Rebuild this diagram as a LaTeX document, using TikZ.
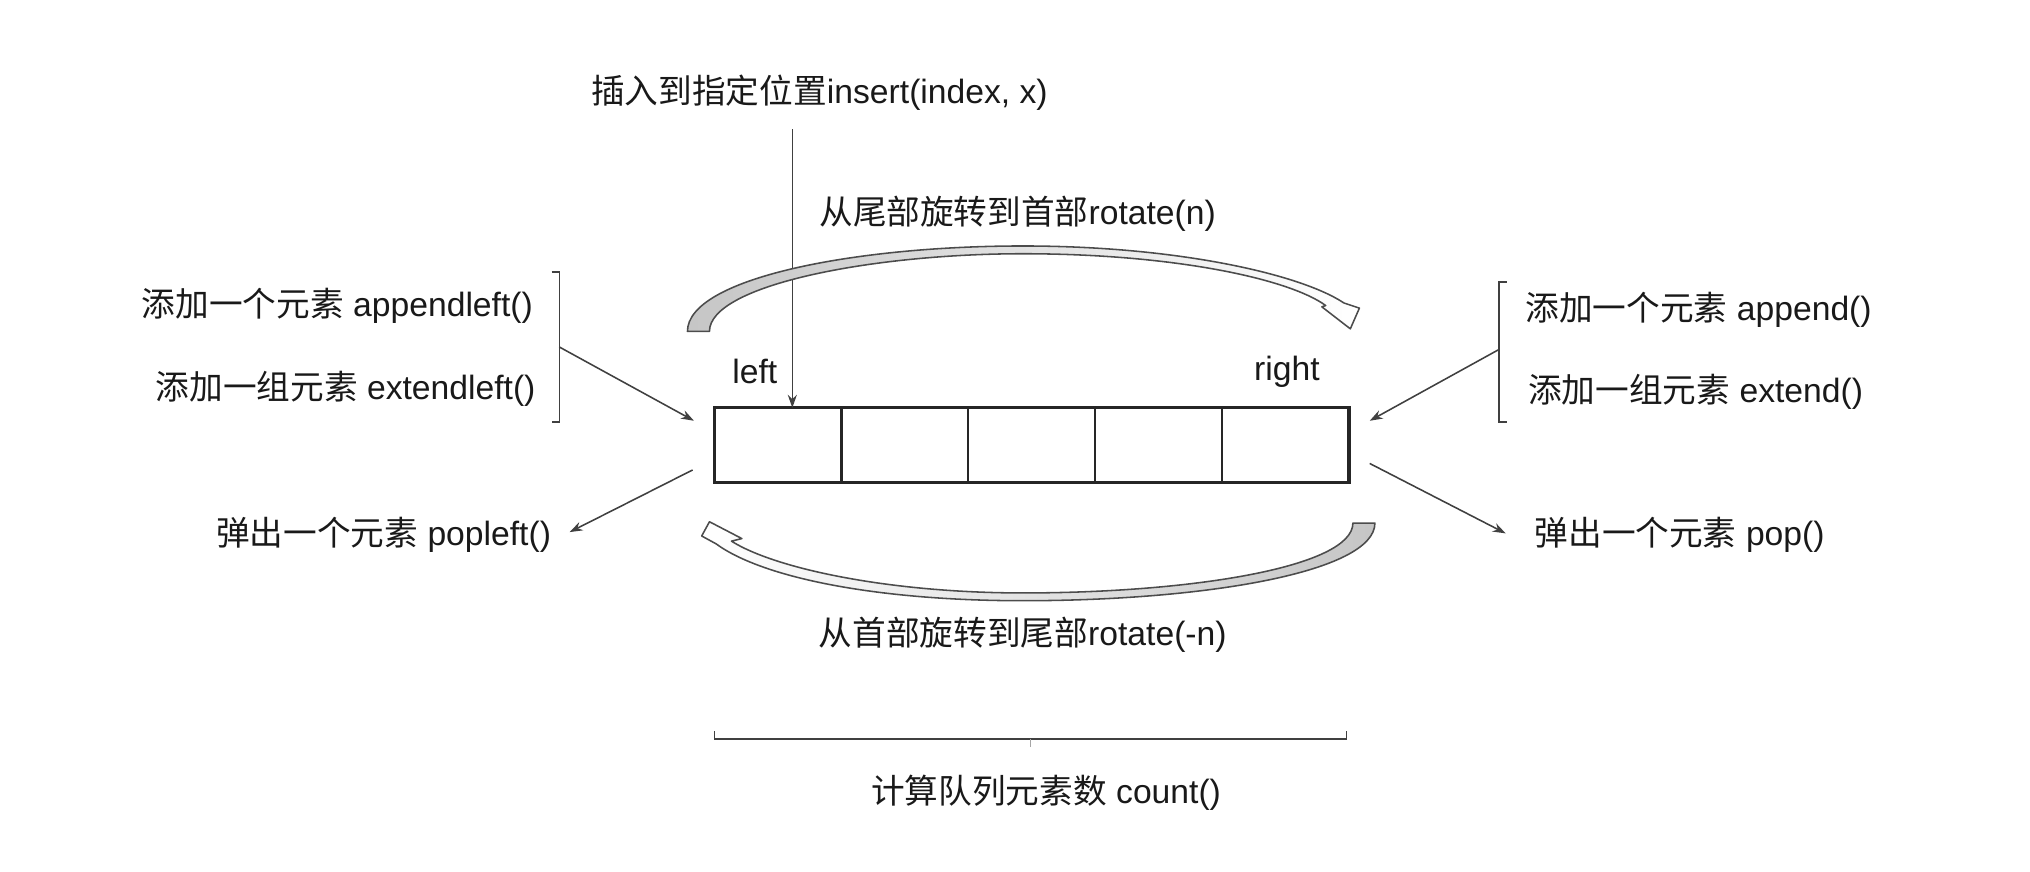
\documentclass[tikz,border=0pt]{standalone}
\usepackage{fontspec}
\setmainfont{Liberation Sans}
\newfontfamily\cjk{Noto Sans CJK SC}
\newcommand\zh[1]{{\cjk #1}}
\usetikzlibrary{positioning,calc,arrows.meta}

\begin{document}
\begin{tikzpicture}[x=0.5pt,y=-0.5pt,
    txt/.style={inner sep=0pt,text=black!90,font=\fontsize{13}{15}\selectfont},
    cell/.style={draw=black!85,line width=0.8pt,minimum width=49pt,minimum height=29pt,inner sep=0pt,outer sep=0pt},
    conn/.style={draw=black!75,line width=0.6pt},
    arr/.style={conn,-{Stealth[length=5pt,width=3.5pt]}},
    band/.style={draw=black!70,line width=0.6pt,line join=round}]
    \useasboundingbox (0,0) rectangle (1568,673);

    % the deque
    \node[cell] (c1) at (601,344) {};
    \foreach \i [remember=\i as \j (initially 1)] in {2,...,5}
        \node[cell,right=0pt of c\j] (c\i) {};
    \draw[black!85,line width=1.2pt] (c1.north west) rectangle (c5.south east);
    \node[txt] (lft) at (583,287) {left};
    \node[txt] (rgt) at (994,287) {right};

    % labels
    \node[txt] (ins)  at (633,72)  {\zh{插入到指定位置}insert(index, x)};
    \node[txt] (rotR) at (786,165) {\zh{从尾部旋转到首部}rotate(n)};
    \node[txt] (rotL) at (790,490) {\zh{从首部旋转到尾部}rotate(-n)};
    \node[txt,anchor=east] (apl)  at (412,236) {\zh{添加一个元素} appendleft()};
    \node[txt,anchor=east] (exl)  at (414,300) {\zh{添加一组元素} extendleft()};
    \node[txt,anchor=east] (popl) at (426,413) {\zh{弹出一个元素} popleft()};
    \node[txt,anchor=west] (apr)  at (1178,239) {\zh{添加一个元素} append()};
    \node[txt,anchor=west] (exr)  at (1180,303) {\zh{添加一组元素} extend()};
    \node[txt,anchor=west] (pop)  at (1185,413) {\zh{弹出一个元素} pop()};
    \node[txt] (cnt) at (808,612) {\zh{计算队列元素数} count()};

    % insert
    \coordinate (insTop) at (612,100);
    \draw[arr] (insTop) -- (insTop |- c1.north);

    % brackets
    \draw[conn] (426,210) -- (432,210) -- coordinate[pos=0.5] (lbr) (432,326) -- (426,326);
    \draw[conn] (1164,218) -- (1158,218) -- coordinate[pos=0.48] (rbr) (1158,326) -- (1164,326);

    \coordinate (inL)  at ($(c1.north west)+(-16,10)$);
    \coordinate (outL) at ($(c1.south west)+(-17,-10)$);
    \coordinate (inR)  at ($(c5.north east)+(16,10)$);
    \coordinate (outR) at ($(c5.south east)+(16,-15)$);
    \coordinate (popLtip) at ($(popl.east)+(14,-2)$);
    \coordinate (popRtip) at ($(pop.west)+(-22,-1)$);
    \draw[arr] (lbr) -- (inL);
    \draw[arr] (rbr) -- (inR);
    \draw[arr] (outL) -- (popLtip);
    \draw[arr] (outR) -- (popRtip);

    % rotate arrows
    \draw[band,left color=gray!45,right color=white]
        (531,256) .. controls (531,215) and (660,190) .. (790,190)
        .. controls (910,190) and (1005,212) .. (1038,234)
        -- (1050,238) -- (1043,254) -- (1021,237) -- (1024,236)
        .. controls (995,215) and (905,196) .. (790,196)
        .. controls (675,196) and (548,220) .. (548,256) -- cycle;
    \draw[band,left color=white,right color=gray!45]
        (1045,404) -- (1062,404) .. controls (1062,442) and (930,464) .. (790,464)
        .. controls (680,464) and (590,447) .. (553,420)
        -- (542,414) -- (548,403) -- (573,416) -- (565,418)
        .. controls (600,440) and (690,458) .. (790,458)
        .. controls (920,458) and (1045,438) .. (1045,404) -- cycle;

    % count
    \coordinate (bl) at (552,571);
    \coordinate (br) at (1040,571);
    \draw[conn] ($(bl)+(0,-6)$) -- (bl) -- (br) -- ($(br)+(0,-6)$);
    \draw[conn,black!35] ($(bl)!0.5!(br)$) -- ++(0,6);
\end{tikzpicture}
\end{document}
